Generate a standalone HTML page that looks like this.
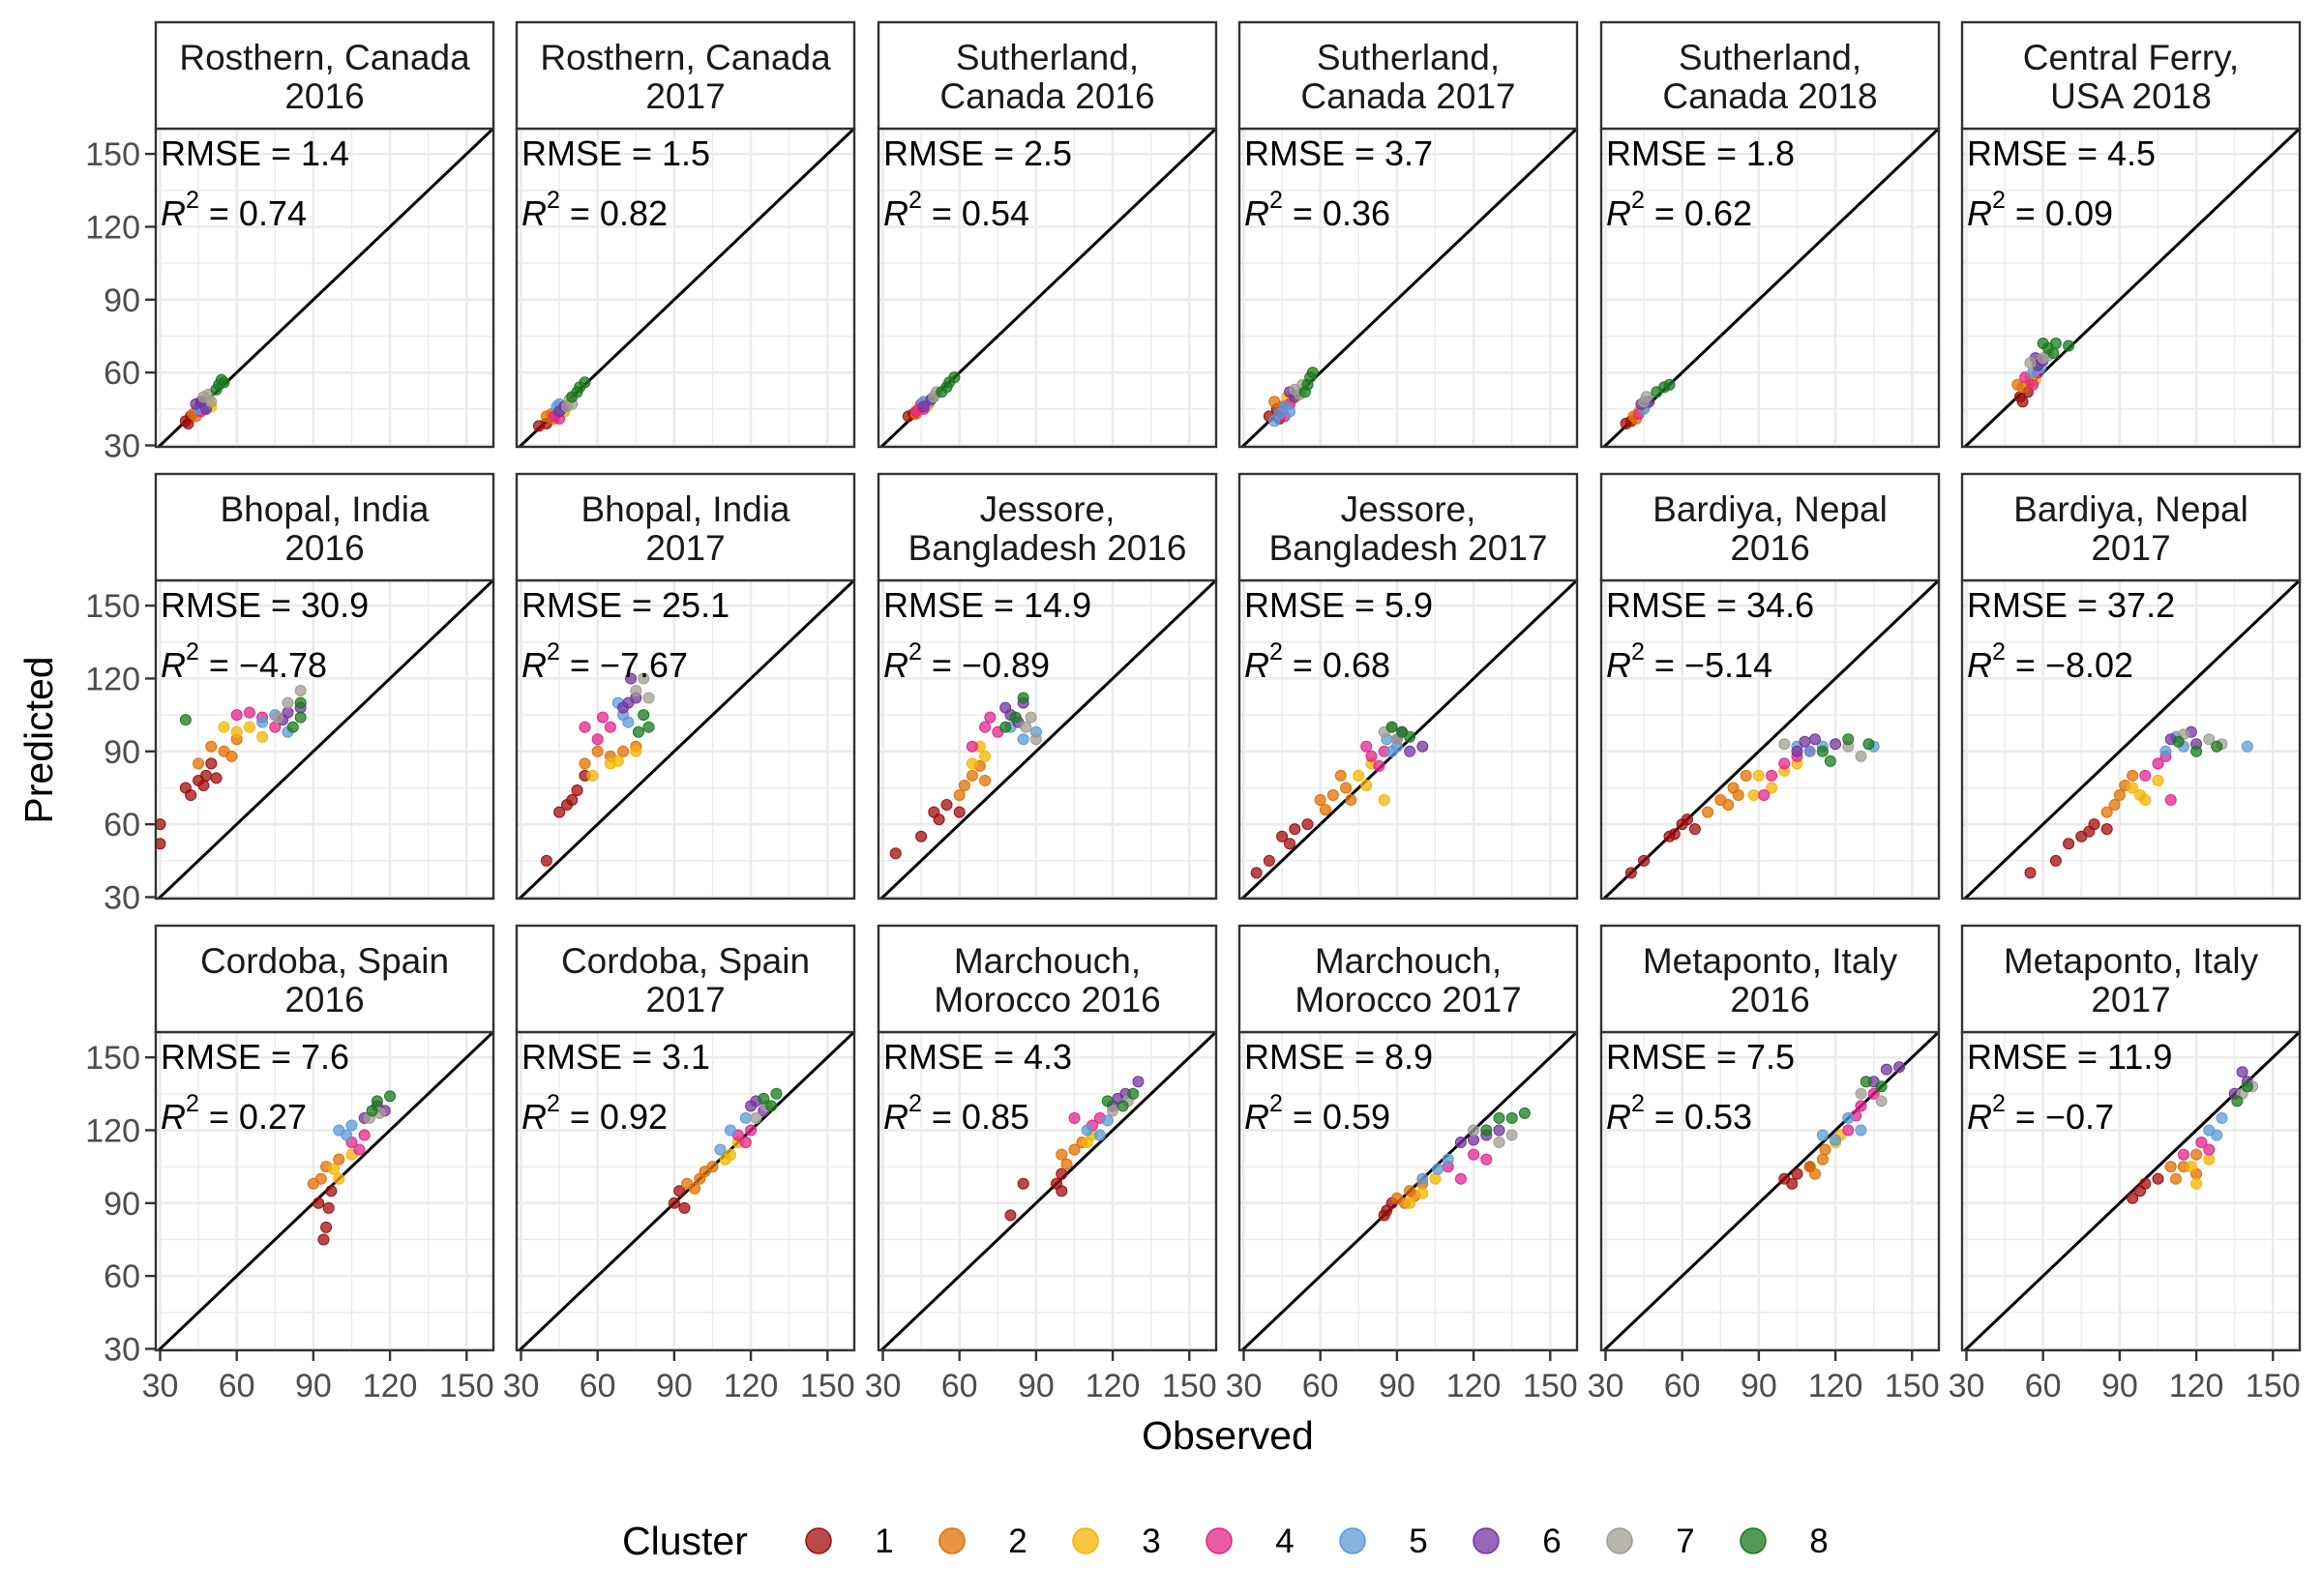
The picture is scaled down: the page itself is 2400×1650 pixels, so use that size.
<!DOCTYPE html>
<html><head><meta charset="utf-8">
<style>
html,body{margin:0;padding:0;background:#fff;}
svg{display:block;font-family:"Liberation Sans",Arial,sans-serif;}
</style></head>
<body>
<svg id="chart" width="2400" height="1650" viewBox="0 0 2400 1650"></svg>
<script>
const clusters = [1,2,3,4,5,6,7,8];
const clusterColors = ["#a00d0d","#e07000","#f5b400","#e3268a","#5b9bd5","#7434a0","#a09e92","#1b7a1f"];
const xTicks = [30,60,90,120,150];
const yTicks = [30,60,90,120,150];
const panelTitles = [
 ["Rosthern, Canada","2016"],["Rosthern, Canada","2017"],["Sutherland,","Canada 2016"],["Sutherland,","Canada 2017"],["Sutherland,","Canada 2018"],["Central Ferry,","USA 2018"],
 ["Bhopal, India","2016"],["Bhopal, India","2017"],["Jessore,","Bangladesh 2016"],["Jessore,","Bangladesh 2017"],["Bardiya, Nepal","2016"],["Bardiya, Nepal","2017"],
 ["Cordoba, Spain","2016"],["Cordoba, Spain","2017"],["Marchouch,","Morocco 2016"],["Marchouch,","Morocco 2017"],["Metaponto, Italy","2016"],["Metaponto, Italy","2017"]];
const rmseValues = ["1.4","1.5","2.5","3.7","1.8","4.5","30.9","25.1","14.9","5.9","34.6","37.2","7.6","3.1","4.3","8.9","7.5","11.9"];
const r2Values = ["0.74","0.82","0.54","0.36","0.62","0.09","\u22124.78","\u22127.67","\u22120.89","0.68","\u22125.14","\u22128.02","0.27","0.92","0.85","0.59","0.53","\u22120.7"];
// points per panel: arrays per cluster of [observed, predicted]
const panelPoints = [
 [[[40,40],[42,42],[41,39]],[[43,43],[45,44],[44,42]],[[48,47],[50,46],[49,48]],[[46,44],[47,45]],[[45,45],[47,46],[46,47]],[[44,47],[48,45],[46,48]],[[47,50],[50,48],[49,51]],[[52,53],[54,57],[55,56],[53,55]]],
 [[[37,38],[40,39]],[[40,42],[42,43],[43,41]],[[46,45],[47,44]],[[43,42],[45,41]],[[44,46],[46,45],[45,47]],[[45,44],[47,46]],[[48,46],[50,47],[49,49]],[[50,50],[53,54],[55,56],[52,52]]],
 [[[40,42],[42,43]],[[44,45],[43,43]],[[47,46],[48,47]],[[45,47],[43,44],[46,45]],[[48,48],[46,48]],[[46,46],[49,49]],[[50,50],[51,52]],[[53,52],[56,56],[58,58],[55,54]]],
 [[[40,42],[43,45],[44,41]],[[42,48],[45,46]],[[47,50],[49,49]],[[45,44],[48,47],[46,42]],[[44,43],[46,46],[42,40],[48,44]],[[48,52],[50,50]],[[50,53],[53,55],[52,51]],[[55,55],[57,60],[54,52],[56,58]]],
 [[[38,39],[40,40]],[[41,42],[42,41]],[[44,45],[43,44]],[[43,43]],[[45,45],[46,47]],[[44,47],[47,48]],[[46,50],[45,48]],[[50,52],[55,55],[53,54]]],
 [[[52,48],[54,52],[51,50]],[[50,55],[55,56],[52,54]],[[55,58],[57,57]],[[58,60],[53,58],[56,55]],[[56,60],[59,62]],[[58,63],[60,65],[57,66]],[[60,66],[55,64],[62,67]],[[60,72],[65,72],[70,71],[64,68],[62,70]]],
 [[[30,52],[30,60],[40,75],[45,78],[48,80],[50,85],[42,72],[47,76],[52,79]],[[45,85],[55,90],[60,95],[50,92],[58,88]],[[55,100],[65,100],[60,98],[70,96]],[[60,105],[70,104],[75,100],[65,106]],[[75,105],[80,98],[70,102]],[[78,103],[85,108],[80,106]],[[80,110],[85,115],[76,104]],[[40,103],[85,104],[82,100],[85,110]]],
 [[[40,45],[45,65],[50,70],[55,80],[48,68],[52,74]],[[55,85],[60,90],[70,90],[65,88],[75,92]],[[58,80],[65,85],[75,90],[68,86]],[[60,95],[65,100],[55,100],[62,104]],[[70,105],[68,110],[72,102]],[[72,110],[75,112],[73,120],[70,108]],[[75,115],[80,112],[78,120]],[[78,105],[80,100],[76,98]]],
 [[[35,48],[45,55],[50,65],[55,68],[60,65],[52,62]],[[60,72],[65,80],[70,78],[62,76],[68,84]],[[65,85],[70,88],[68,92]],[[70,100],[75,98],[65,92],[72,104]],[[80,100],[85,95],[90,98]],[[80,105],[85,110],[78,108],[83,102]],[[88,104],[90,95],[86,100]],[[78,100],[85,112],[82,104]]],
 [[[35,40],[40,45],[45,55],[55,60],[50,58],[48,52]],[[60,70],[65,72],[70,75],[62,66],[68,80],[72,70]],[[75,80],[80,85],[85,70],[78,76]],[[85,90],[80,88],[83,84],[78,92]],[[88,90],[90,92],[86,95]],[[90,95],[95,90],[100,92],[92,98]],[[90,95],[85,98],[88,100]],[[92,98],[88,100],[95,96]]],
 [[[40,40],[45,45],[55,55],[60,60],[65,58],[62,62],[57,56]],[[70,65],[80,75],[85,80],[75,70],[78,68],[82,72]],[[90,80],[100,82],[105,85],[95,75],[88,72]],[[100,85],[105,88],[95,80],[110,90],[92,72]],[[110,90],[115,92],[105,92],[135,92]],[[105,90],[120,93],[112,95],[108,94]],[[100,93],[125,92],[130,88]],[[115,90],[125,95],[118,86],[133,93]]],
 [[[55,40],[65,45],[75,55],[80,60],[85,58],[78,57],[70,52]],[[85,65],[90,72],[95,80],[88,68],[92,76]],[[95,75],[100,70],[105,78],[98,72]],[[100,80],[105,85],[110,70],[108,88]],[[108,90],[115,92],[140,92],[112,96]],[[110,95],[120,93],[118,98]],[[115,97],[125,95],[130,93]],[[120,90],[128,92],[113,94]]],
 [[[94,75],[95,80],[96,88],[97,95],[92,90]],[[90,98],[95,105],[100,108],[93,100]],[[100,100],[105,110],[98,104]],[[105,115],[110,118],[108,112]],[[100,120],[105,122],[103,118]],[[110,125],[115,130],[118,128]],[[112,125],[116,127]],[[115,132],[113,128],[120,134]]],
 [[[90,90],[92,95],[94,88]],[[95,98],[100,100],[105,105],[98,96],[102,103]],[[110,108],[115,115],[112,110]],[[115,118],[120,120],[118,115]],[[108,112],[118,125],[112,120]],[[120,130],[125,128],[122,132]],[[122,125],[126,130]],[[125,133],[130,135],[128,130]]],
 [[[80,85],[85,98],[100,95],[100,102],[98,98]],[[100,110],[105,112],[108,115],[102,106]],[[110,115],[112,118]],[[105,125],[115,125],[112,122]],[[110,120],[115,118],[118,124]],[[120,130],[125,135],[130,140],[122,133]],[[120,128],[126,132]],[[118,132],[128,135],[124,130]]],
 [[[85,85],[88,90],[86,87]],[[90,92],[95,95],[100,98],[93,90],[97,93]],[[95,90],[105,100],[100,94]],[[110,105],[120,110],[115,100],[125,108]],[[100,100],[110,108],[106,104]],[[115,115],[125,118],[130,120],[120,116]],[[120,120],[130,115],[135,118]],[[125,120],[135,125],[130,125],[140,127]]],
 [[[100,100],[105,102],[110,105],[103,98]],[[110,105],[115,108],[112,102],[116,112]],[[120,115],[122,118]],[[125,120],[130,130],[135,135],[128,126]],[[115,118],[125,125],[130,120],[120,116]],[[135,140],[140,145],[145,146]],[[130,135],[138,132]],[[138,138],[132,140]]],
 [[[95,92],[100,98],[105,100],[98,95]],[[110,105],[115,105],[120,102],[120,110],[112,100]],[[120,98],[125,108],[118,105]],[[115,110],[125,112],[122,115]],[[125,120],[130,125],[128,118]],[[135,135],[140,140],[138,144]],[[138,135],[142,138]],[[140,138],[136,132]]]
];

const NS = "http://www.w3.org/2000/svg";
const svg = document.getElementById("chart");
function mk(tag, attrs, parent){const e=document.createElementNS(NS,tag);for(const k in attrs)e.setAttribute(k,attrs[k]);(parent||svg).appendChild(e);return e;}

const colX = [161,534,908,1281,1655,2028];
const panelW = 349;
const rowTop = [23,490,957];
const stripH = 110;
const plotH = 329;
const xMin = 28.3, xMax = 160.5, yMin = 29.4, yMax = 160.4;

for (let p = 0; p < 18; p++) {
  const r = Math.floor(p/6), c = p%6;
  const x0 = colX[c], sy = rowTop[r], py0 = sy + stripH, py1 = py0 + plotH;
  const sx = v => x0 + (v - xMin)/(xMax - xMin)*panelW;
  const syf = v => py1 - (v - yMin)/(yMax - yMin)*plotH;
  const g = mk("g", {});
  
  
  const clipId = "clip"+p;
  const cp = mk("clipPath",{id:clipId},g); mk("rect",{x:x0,y:py0,width:panelW,height:plotH},cp);
  for (let v = 15; v <= 165; v += 15) {
    const major = v % 30 === 0;
    const gx = sx(v), gy = syf(v);
    if (gx > x0 && gx < x0+panelW) mk("line",{x1:gx,x2:gx,y1:py0,y2:py1,stroke:"#ebebeb","stroke-width":major?2.6:1.3},g);
    if (gy > py0 && gy < py1) mk("line",{x1:x0,x2:x0+panelW,y1:gy,y2:gy,stroke:"#ebebeb","stroke-width":major?2.6:1.3},g);
  }
  const lo = Math.min(xMin,yMin)-2, hi = Math.max(xMax,yMax)+10;
  const diag = mk("line",{x1:sx(lo),y1:syf(lo),x2:sx(hi),y2:syf(hi),stroke:"#000","stroke-width":3,"clip-path":"url(#"+clipId+")"},g);
  
  
  const pts = panelPoints[p];
  for (let k = 0; k < pts.length; k++) {
    for (const pt of pts[k]) {
      const ci = mk("circle",{cx:sx(pt[0]),cy:syf(pt[1]),r:5.5,fill:clusterColors[k],"fill-opacity":0.75,stroke:clusterColors[k],"stroke-width":1,"clip-path":"url(#"+clipId+")"},g);
      
      
    }
  }
  mk("rect",{x:x0,y:py0,width:panelW,height:plotH,fill:"none",stroke:"#333","stroke-width":2.4},g);
  const st = mk("rect",{x:x0,y:sy,width:panelW,height:stripH,fill:"#fff",stroke:"#333","stroke-width":2.4},g);
  
  
  const t = mk("text",{x:x0+panelW/2,y:sy+49,"text-anchor":"middle","font-size":37,fill:"#1a1a1a"},g);
  
  
  t.textContent = panelTitles[p][0];
  const t2 = mk("text",{x:x0+panelW/2,y:sy+89,"text-anchor":"middle","font-size":37,fill:"#1a1a1a"},g);
  
  
  t2.textContent = panelTitles[p][1];
  const a1 = mk("text",{x:x0+5,y:py0+38,"font-size":36,fill:"#000"},g);
  
  
  a1.textContent = "RMSE = " + rmseValues[p];
  const a2 = mk("text",{x:x0+5,y:py0+100,"font-size":36,fill:"#000"},g);
  
  
  const ts1 = mk("tspan",{"font-style":"italic"},a2); ts1.textContent = "R";
  const ts2 = mk("tspan",{dy:-18,"font-size":25},a2); ts2.textContent = "2";
  const ts3 = mk("tspan",{dy:18},a2); ts3.textContent = " = " + r2Values[p];
  if (c === 0) {
    for (const v of yTicks) {
      mk("line",{x1:x0-11,x2:x0,y1:syf(v),y2:syf(v),stroke:"#333","stroke-width":2.4},g);
      const yl = mk("text",{x:x0-16,y:syf(v)+12,"text-anchor":"end","font-size":34,fill:"#4d4d4d"},g);
      
      
      yl.textContent = v;
    }
  }
  if (r === 2) {
    for (const v of xTicks) {
      mk("line",{x1:sx(v),x2:sx(v),y1:py1,y2:py1+11,stroke:"#333","stroke-width":2.4},g);
      const xl = mk("text",{x:sx(v),y:py1+48,"text-anchor":"middle","font-size":34,fill:"#4d4d4d"},g);
      
      
      xl.textContent = v;
    }
  }
}
const xt = mk("text",{x:1269,y:1498,"text-anchor":"middle","font-size":41,fill:"#000"});


xt.textContent = "Observed";
const yt = mk("text",{x:0,y:0,"text-anchor":"middle","font-size":41,fill:"#000",transform:"translate(54,765) rotate(-90)"});


yt.textContent = "Predicted";
const lg = mk("g",{});


const lt = mk("text",{x:643,y:1607,"font-size":41,fill:"#000"},lg);


lt.textContent = "Cluster";
for (let k = 0; k < clusters.length; k++) {
  const cx = 846 + 138*k;
  const c = mk("circle",{cx:cx,cy:1593,r:13,fill:clusterColors[k],"fill-opacity":0.75,stroke:clusterColors[k],"stroke-width":1.5},lg);
  
  
  const l = mk("text",{x:cx+68,y:1605,"text-anchor":"middle","font-size":35,fill:"#000"},lg);
  
  
  l.textContent = clusters[k];
}
</script>
</body></html>
